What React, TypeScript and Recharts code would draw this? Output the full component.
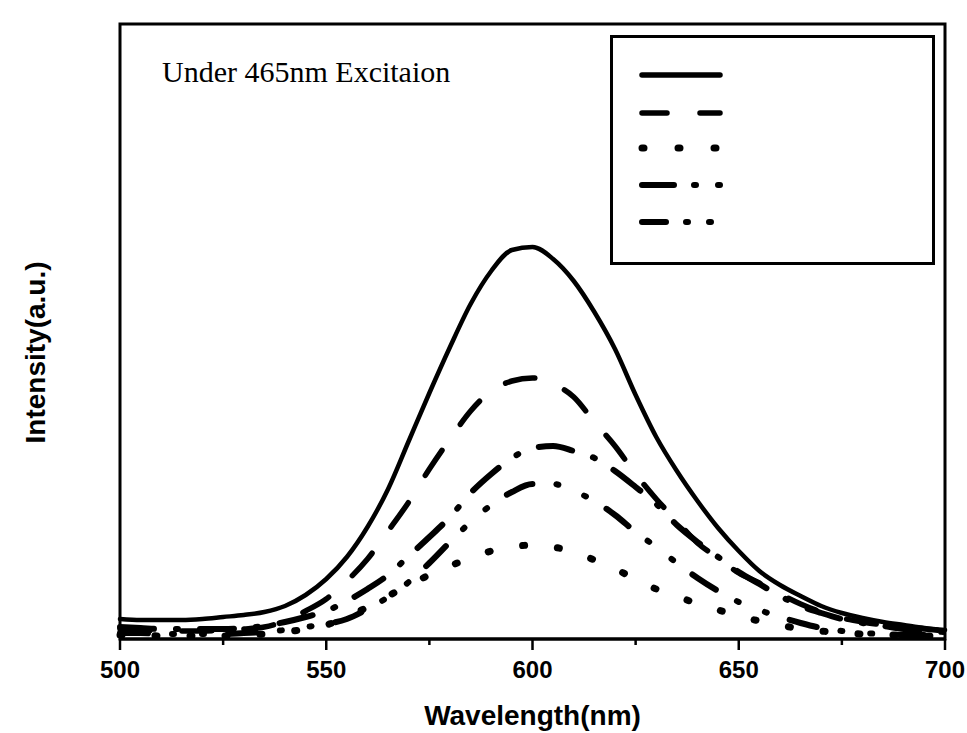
import { LineChart, Line, XAxis, YAxis, ReferenceArea, Legend } from 'recharts';

// wavelength (nm), sampled every 5 nm
const wavelengths = [
  500, 505, 510, 515, 520, 525, 530, 535, 540, 545, 550, 555, 560, 565, 570, 575, 580,
  585, 590, 595, 600, 605, 610, 615, 620, 625, 630, 635, 640, 645, 650, 655, 660, 665,
  670, 675, 680, 685, 690, 695, 700,
];

// intensity (a.u.)
const solidCurve = [
  20, 19, 19, 19, 20, 22, 24, 27, 33, 44, 60, 82, 112, 150, 198, 246, 292, 335, 368, 389,
  392, 380, 358, 327, 290, 244, 202, 168, 138, 111, 88, 68, 54, 43, 33, 26, 21, 17, 14, 11, 9,
];
const dashCurve = [
  10, 9, 8, 8, 8, 9, 10, 12, 18, 28, 40, 58, 80, 108, 137, 170, 200, 228, 248, 258,
  261, 255, 242, 217, 193, 165, 140, 118, 96, 81, 66, 56, 45, 35, 27, 21, 17, 14, 11, 10, 8,
];
const dotCurve = [
  4, 4, 3, 3, 3, 3, 4, 5, 7, 10, 14, 22, 32, 43, 54, 64, 73, 81, 88, 92,
  94, 92, 87, 79, 70, 60, 50, 43, 35, 29, 23, 18, 14, 10, 8, 6, 5, 4, 4, 3, 3,
];
const dashDotCurve = [
  12, 11, 10, 10, 10, 10, 11, 13, 17, 22, 28, 38, 50, 64, 83, 102, 122, 146, 165, 181,
  191, 193, 188, 181, 168, 152, 135, 114, 97, 82, 67, 55, 43, 33, 26, 20, 16, 13, 10, 8, 7,
];
const dashDotDotCurve = [
  6, 6, 5, 5, 5, 5, 6, 7, 9, 12, 15, 20, 30, 42, 57, 76, 97, 117, 134, 147,
  155, 155, 148, 138, 124, 107, 92, 76, 61, 48, 37, 29, 22, 16, 11, 8, 6, 5, 4, 4, 3,
];

const xTicks = [500, 525, 550, 575, 600, 625, 650, 675, 700];

const SERIES = [
  { key: 's1', values: solidCurve, dash: undefined, legendDash: undefined, width: 4.5 },
  { key: 's2', values: dashCurve, dash: '30 32', legendDash: '25 33', width: 5.5 },
  { key: 's3', values: dotCurve, dash: '2 33', legendDash: '2 34', width: 7 },
  { key: 's4', values: dashDotCurve, dash: '34 22 2 22', legendDash: '32 20 2 22 2 40', width: 6 },
  { key: 's5', values: dashDotDotCurve, dash: '28 24 2 28 2 24', legendDash: '24 20 2 21 2 40', width: 6 },
];

const data = wavelengths.map((w, i) => {
  const row: Record<string, number> = { w };
  SERIES.forEach((s) => {
    row[s.key] = s.values[i];
  });
  return row;
});

const SANS = '"Liberation Sans", Arial, sans-serif';

function WaveTick(props: any) {
  const { x, y, payload } = props;
  const major = payload.value % 50 === 0;
  return (
    <g>
      <line x1={x} x2={x} y1={y} y2={y + (major ? 11 : 6)} stroke="#000" strokeWidth={2.5} />
      {major && (
        <text
          x={x}
          y={y + 39}
          textAnchor="middle"
          fontFamily={SANS}
          fontWeight="bold"
          fontSize={24}
          fill="#000"
        >
          {payload.value}
        </text>
      )}
    </g>
  );
}

function XTitle(props: any) {
  const vb = props.viewBox;
  return (
    <text
      x={vb.x + vb.width / 2}
      y={vb.y + 86}
      textAnchor="middle"
      fontFamily={SANS}
      fontWeight="bold"
      fontSize={28}
      fill="#000"
    >
      Wavelength(nm)
    </text>
  );
}

function YTitle(props: any) {
  const vb = props.viewBox;
  const x = vb.x + 45;
  const y = vb.y + vb.height / 2 + 21;
  return (
    <text
      x={x}
      y={y}
      transform={`rotate(-90 ${x} ${y})`}
      textAnchor="middle"
      fontFamily={SANS}
      fontWeight="bold"
      fontSize={28}
      fill="#000"
    >
      Intensity(a.u.)
    </text>
  );
}

function LegendBox() {
  const rows = [37, 75, 110, 147, 184];
  return (
    <div
      style={{
        width: 325,
        height: 230,
        boxSizing: 'border-box',
        border: '3px solid #000',
        background: '#fff',
      }}
    >
      <svg width={319} height={224} style={{ display: 'block' }}>
        {SERIES.map((s, i) => (
          <line
            key={s.key}
            x1={29}
            x2={107}
            y1={rows[i]}
            y2={rows[i]}
            stroke="#000"
            strokeWidth={i === 0 ? 5.5 : s.width}
            strokeDasharray={s.legendDash}
            strokeLinecap="round"
          />
        ))}
      </svg>
    </div>
  );
}

export default function App() {
  return (
    <div style={{ position: 'absolute', left: 0, top: 0, width: 967, height: 733, background: '#fff' }}>
      <LineChart width={967} height={733} data={data} margin={{ top: 24, right: 22, bottom: 0, left: 0 }}>
        <XAxis
          dataKey="w"
          type="number"
          domain={[500, 700]}
          ticks={xTicks}
          interval={0}
          height={94}
          tickSize={0}
          tickMargin={0}
          tick={<WaveTick />}
          axisLine={{ stroke: '#000', strokeWidth: 3 }}
          label={<XTitle />}
        />
        <YAxis
          type="number"
          domain={[0, 615]}
          width={120}
          tick={false}
          tickLine={false}
          axisLine={false}
          allowDataOverflow
          label={<YTitle />}
        />
        <ReferenceArea
          x1={500}
          x2={700}
          y1={0}
          y2={615}
          fill="none"
          stroke="#000"
          strokeWidth={3}
          ifOverflow="visible"
        />
        {SERIES.map((s) => (
          <Line
            key={s.key}
            dataKey={s.key}
            type="monotone"
            stroke="#000"
            strokeWidth={s.width}
            strokeDasharray={s.dash}
            strokeLinecap="round"
            dot={false}
            activeDot={false}
            isAnimationActive={false}
          />
        ))}
        <Legend
          layout="vertical"
          align="center"
          verticalAlign="middle"
          content={<LegendBox />}
          wrapperStyle={{ left: 610, top: 35, width: 325, height: 230 }}
        />
      </LineChart>
      <div
        style={{
          position: 'absolute',
          left: 162,
          top: 57,
          fontFamily: '"Liberation Serif", "Times New Roman", serif',
          fontSize: 30,
          lineHeight: '30px',
          color: '#000',
          whiteSpace: 'nowrap',
        }}
      >
        Under 465nm Excitaion
      </div>
    </div>
  );
}
